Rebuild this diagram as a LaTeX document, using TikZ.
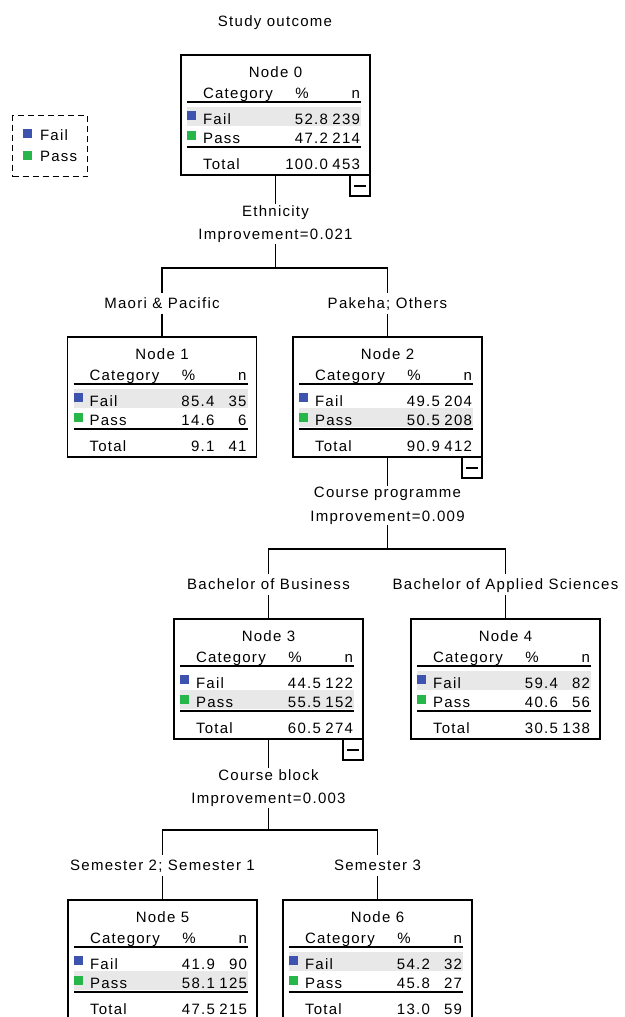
\documentclass[tikz,border=0pt]{standalone}
\usepackage{fontspec}
\setmainfont{Liberation Sans}[LetterSpace=8.5]
\definecolor{failblue}{RGB}{62,82,176}
\definecolor{passgreen}{RGB}{38,182,74}
\definecolor{rowshade}{RGB}{232,232,232}
\newcommand{\fs}{\fontsize{15}{23.5}\selectfont}
\tikzset{
  every node/.style={font=\fs, text=black},
  treebox/.style={draw, line width=1.2pt, minimum width=189pt, minimum height=120pt, inner sep=0pt, outer sep=0pt, anchor=north},
  txt/.style={inner sep=0pt, outer sep=0pt},
  tabrule/.style={line width=1.6pt},
  conn/.style={line width=1.3pt},
  splitlbl/.style={align=center, inner xsep=2pt, inner ysep=1pt, anchor=north},
  catlbl/.style={anchor=base, text height=12pt, text depth=3pt, inner ysep=3pt, inner xsep=2pt},
  legbox/.style={draw, dash pattern=on 6pt off 4pt, line width=1.3pt, minimum width=75pt, minimum height=61pt, anchor=north west, inner sep=0pt},
  minusbox/.style={line width=1.2pt},
}
% #1 name, #2 cx, #3 top, #4 number, #5 shaded row top, #6 fail %, #7 fail n, #8 pass %, #9 pass n
\newcommand{\tnode}[9]{%
  \node[treebox] (#1) at (#2,#3) {};
  \begin{scope}[shift={(#1.north west)}]
    \fill[rowshade] (6,#5) rectangle ++(174,19);
    \node[txt, anchor=base] at (94.5,22) {Node #4};
    \node[txt, anchor=base west] at (22,43) {Category};
    \node[txt, anchor=base] at (121,43) {\%};
    \node[txt, anchor=base east] at (179,43) {n};
    \draw[tabrule] (6,47) -- (180,47);
    \fill[failblue] (6,56) rectangle (15,65);
    \node[txt, anchor=base west] at (22,69) {Fail};
    \node[txt, anchor=base east] at (147,69) {#6};
    \node[txt, anchor=base east] at (179,69) {#7};
    \fill[passgreen] (6,76) rectangle (15,85);
    \node[txt, anchor=base west] at (22,88) {Pass};
    \node[txt, anchor=base east] at (147,88) {#8};
    \node[txt, anchor=base east] at (179,88) {#9};
    \draw[tabrule] (6,92) -- (180,92);
  \end{scope}}
\newcommand{\ttotal}[3]{%
  \begin{scope}[shift={(#1.north west)}]
    \node[txt, anchor=base west] at (22,114) {Total};
    \node[txt, anchor=base east] at (147,114) {#2};
    \node[txt, anchor=base east] at (179,114) {#3};
  \end{scope}}
\newcommand{\tminus}[1]{%
  \begin{scope}[shift={(#1.south east)}]
    \draw[minusbox] (-20,0) rectangle (0,21);
    \draw[minusbox] (-16,11) -- (-4,11);
  \end{scope}}
\begin{document}
\begin{tikzpicture}[x=1pt, y=-1pt]
\useasboundingbox (0,0) rectangle (624,1017);
\clip (0,0) rectangle (624,1017);

\node[txt, anchor=base] (title) at (275,27) {Study outcome};

% legend
\node[legbox] (legend) at (12,115) {};
\fill[failblue] (23,129) rectangle (32,138);
\node[txt, anchor=base west] (legfail) at (40,140) {Fail};
\fill[passgreen] (23,151) rectangle (32,160);
\node[txt, anchor=base west] (legpass) at (40,161) {Pass};

% level 0
\tnode{n0}{275.5}{55}{0}{52}{52.8}{239}{47.2}{214}
\ttotal{n0}{100.0}{453}
\tminus{n0}

\node[splitlbl] (s0) at (275.5,204) {Ethnicity\\Improvement=0.021};
\coordinate (b0) at (275.5,268);
\node[catlbl] (c1) at (162,308) {Maori \& Pacific};
\node[catlbl] (c2) at (387.5,308) {Pakeha; Others};

\tnode{n1}{162}{337}{1}{52}{85.4}{35}{14.6}{6}
\ttotal{n1}{9.1}{41}
\tnode{n2}{387.5}{337}{2}{71}{49.5}{204}{50.5}{208}
\ttotal{n2}{90.9}{412}
\tminus{n2}

\draw[conn] (n0.south) -- (s0.north);
\draw[conn] (s0.south) -- (b0);
\draw[conn] (b0) -| (c1.north);
\draw[conn] (b0) -| (c2.north);
\draw[conn] (c1.south) -- (n1.north);
\draw[conn] (c2.south) -- (n2.north);

% level 2
\node[splitlbl] (s2) at (387.5,486) {Course programme\\Improvement=0.009};
\coordinate (b2) at (387.5,549);
\node[catlbl] (c3) at (268.5,589) {Bachelor of Business};
\node[catlbl] (c4) at (505.5,589) {Bachelor of Applied Sciences};

\tnode{n3}{268.5}{619}{3}{71}{44.5}{122}{55.5}{152}
\ttotal{n3}{60.5}{274}
\tminus{n3}
\tnode{n4}{505.5}{619}{4}{52}{59.4}{82}{40.6}{56}
\ttotal{n4}{30.5}{138}

\draw[conn] (n2.south) -- (s2.north);
\draw[conn] (s2.south) -- (b2);
\draw[conn] (b2) -| (c3.north);
\draw[conn] (b2) -| (c4.north);
\draw[conn] (c3.south) -- (n3.north);
\draw[conn] (c4.south) -- (n4.north);

% level 3
\node[splitlbl] (s3) at (268.5,768) {Course block\\Improvement=0.003};
\coordinate (b3) at (268.5,830);
\node[catlbl] (c5) at (162.5,870) {Semester 2; Semester 1};
\node[catlbl] (c6) at (377.5,870) {Semester 3};

\tnode{n5}{162.5}{900}{5}{71}{41.9}{90}{58.1}{125}
\ttotal{n5}{47.5}{215}
\tnode{n6}{377.5}{900}{6}{52}{54.2}{32}{45.8}{27}
\ttotal{n6}{13.0}{59}

\draw[conn] (n3.south) -- (s3.north);
\draw[conn] (s3.south) -- (b3);
\draw[conn] (b3) -| (c5.north);
\draw[conn] (b3) -| (c6.north);
\draw[conn] (c5.south) -- (n5.north);
\draw[conn] (c6.south) -- (n6.north);
\end{tikzpicture}
\end{document}
